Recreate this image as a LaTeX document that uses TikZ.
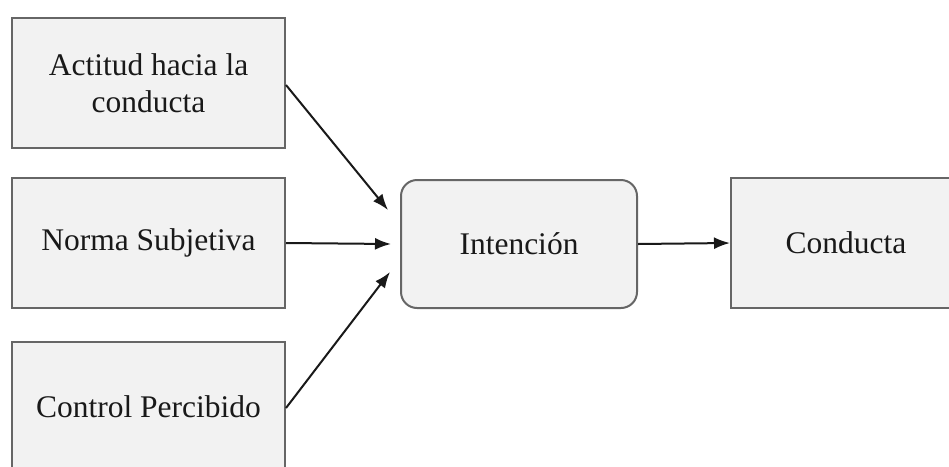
\documentclass[tikz,border=0pt]{standalone}
\usepackage{fontspec}
\setmainfont{Liberation Serif}
\usetikzlibrary{arrows.meta}
\begin{document}
\begin{tikzpicture}[x=1pt,y=-1pt,
box/.style={draw=black!60,line width=2pt,fill=black!5,minimum width=273pt,minimum height=130pt,align=center,inner sep=0pt,font=\fontsize{31.5}{37}\selectfont,text=black!90},
arr/.style={-{Latex[length=16pt,width=12pt]},line width=2pt,black!90}]
\useasboundingbox (0,0) rectangle (949,466);
\clip (0,0) rectangle (949,466);
\node [box] (actitud) at (148.5, 83) {Actitud hacia la\\conducta};
\node [box] (norma) at (148.5, 243) {Norma Subjetiva};
\node [box] (control) at (148.5, 407) {Control Percibido};
\node [box,rounded corners=16pt,minimum width=236pt,minimum height=128pt] (intencion) at (519, 244) {Intención};
\node [box,minimum width=230pt] (conducta) at (846, 243) {Conducta};
\draw [arr] ([yshift=-2pt]actitud.east) to ([shift={(-12,-34)}]intencion.west);
\draw [arr] (norma.east) to ([xshift=-9pt]intencion.west);
\draw [arr] ([yshift=-1pt]control.east) to ([shift={(-10,28)}]intencion.west);
\draw [arr] (intencion.east) to (conducta.west);
\end{tikzpicture}
\end{document}
